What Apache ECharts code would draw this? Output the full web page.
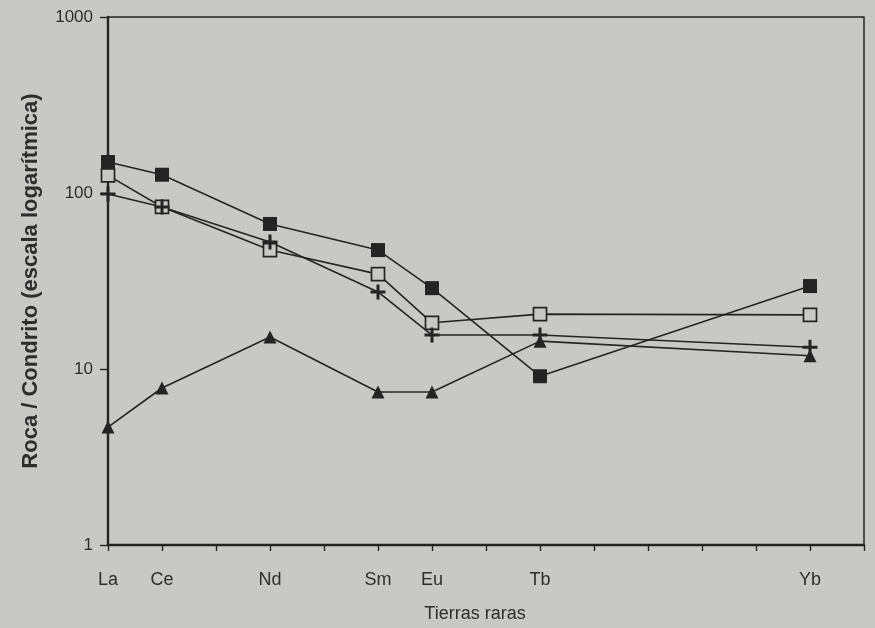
<!DOCTYPE html>
<html>
<head>
<meta charset="utf-8">
<script src="https://cdn.jsdelivr.net/npm/echarts@6/dist/echarts.min.js"></script>
<style>
html,body{margin:0;padding:0;background:#c8c9c7;}
#chart{width:875px;height:628px;}
</style>
</head>
<body>
<div id="chart"></div>
<script>
// Atomic numbers of the rare earths plotted
var elements = ['La', 'Ce', 'Nd', 'Sm', 'Eu', 'Tb', 'Yb'];
var atomicNumbers = [57, 58, 60, 62, 63, 65, 70];
var tickLabels = {57:'La',58:'Ce',60:'Nd',62:'Sm',63:'Eu',65:'Tb',70:'Yb'};
var yTicks = [1, 10, 100, 1000];

// Series values (rock / chondrite)
var filledSquare = [150, 127, 66.7, 47.4, 28.8, 9.1, 29.6];
var openSquare   = [126, 83.3, 47.4, 34.6, 18.3, 20.5, 20.3];
var plusSeries   = [98.7, 83.3, 52.7, 27.4, 15.6, 15.6, 13.3];
var triangles    = [4.68, 7.8, 15.2, 7.4, 7.4, 14.4, 11.9];

function pairs(vals){ return atomicNumbers.map(function(x,i){ return [x, vals[i]]; }); }

var ink = '#242424';
var txt = '#2e2e2e';
var bg = '#c8c9c7';
var plusPath = 'path://M-1.2,-6 L1.2,-6 L1.2,-1.2 L6,-1.2 L6,1.2 L1.2,1.2 L1.2,6 L-1.2,6 L-1.2,1.2 L-6,1.2 L-6,-1.2 L-1.2,-1.2Z';

function mk(name, vals, symbol, size, fill){
  return {
    name: name, type: 'line', data: pairs(vals), clip: false,
    symbol: symbol, symbolSize: size, showAllSymbol: true,
    lineStyle: {color: ink, width: 1.6},
    itemStyle: {color: fill, borderColor: ink, borderWidth: fill === ink ? 0 : 1.7},
    emphasis: {disabled: true}, z: 3
  };
}

var chart = echarts.init(document.getElementById('chart'));
chart.setOption({
  backgroundColor: bg,
  animation: false,
  grid: {left: 108, right: 11, top: 17, bottom: 83, show: true, borderColor: ink, borderWidth: 1.5, backgroundColor: bg},
  xAxis: {
    type: 'value', min: 57, max: 71, interval: 1,
    name: 'Tierras raras', nameLocation: 'middle', nameGap: 60,
    nameTextStyle: {fontFamily: 'Liberation Sans', fontSize: 18, color: txt, padding: [0, 22, 0, 0]},
    axisLine: {show: true, lineStyle: {color: ink, width: 2.4}},
    axisTick: {show: true, inside: false, length: 6, lineStyle: {color: ink, width: 1.4}},
    axisLabel: {
      margin: 26, fontFamily: 'Liberation Sans', fontSize: 18, color: txt,
      formatter: function(v){ return tickLabels[v] || ''; }
    },
    splitLine: {show: false}
  },
  yAxis: {
    type: 'log', logBase: 10, min: 1, max: 1000,
    name: 'Roca / Condrito (escala logarítmica)', nameLocation: 'middle', nameGap: 66, nameRotate: 90,
    nameTextStyle: {fontFamily: 'Liberation Sans', fontSize: 22, fontWeight: 'bold', color: txt},
    axisLine: {show: true, lineStyle: {color: ink, width: 2.4}},
    axisTick: {show: true, inside: false, length: 8, lineStyle: {color: ink, width: 1.4}},
    minorTick: {show: false},
    axisLabel: {margin: 15, fontFamily: 'Liberation Sans', fontSize: 17, color: txt,
      formatter: function(v){ return yTicks.indexOf(Math.round(v)) >= 0 ? String(Math.round(v)) : ''; }},
    splitLine: {show: false}
  },
  series: [
    mk('filled', filledSquare, 'rect', 14, ink),
    mk('open', openSquare, 'rect', 13, bg),
    mk('plus', plusSeries, plusPath, 15, ink),
    mk('tri', triangles, 'triangle', 13, ink)
  ]
});
</script>
</body>
</html>
